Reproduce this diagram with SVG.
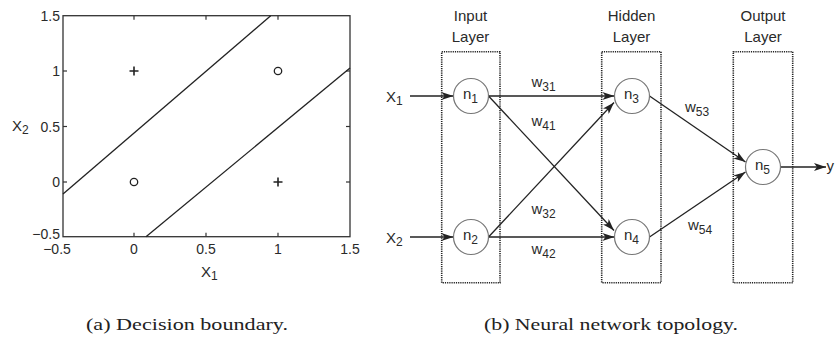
<svg xmlns="http://www.w3.org/2000/svg" width="836" height="342" viewBox="0 0 836 342">
<style>
  text { font-family: "Liberation Sans", Arial, sans-serif; fill: #2a2a2a; }
  .tick { font-size: 14px; }
  .lbl { font-size: 15px; }
  .sub { font-size: 12px; }
  .cap { font-family: "Liberation Serif", "Times New Roman", serif; font-size: 17px; fill: #222; }
  .axis { fill: none; stroke: #333; stroke-width: 1.3; }
  .bound { fill: none; stroke: #222; stroke-width: 1.3; }
  .box { fill: none; stroke: #222; stroke-width: 1.6; stroke-dasharray: 1.2 1; }
  .node circle { fill: #fff; stroke: #777; stroke-width: 1.2; }
  .edge { fill: none; stroke: #222; stroke-width: 1.3; marker-end: url(#arr); }
</style>
<defs>
  <marker id="arr" viewBox="0 0 12 8" refX="12" refY="4" markerWidth="12" markerHeight="8" markerUnits="userSpaceOnUse" orient="auto">
    <path d="M0,0 L12,4 L0,8 L3,4 Z" fill="#222"/>
  </marker>
</defs>
<rect width="836" height="342" fill="#fff"/>

<!-- (a) Decision boundary plot -->
<g id="plot">
  <rect class="axis" x="63" y="15.7" width="287" height="221"/>
  <g stroke="#333" stroke-width="1.2">
    <line x1="134" y1="236.7" x2="134" y2="232.7"/>
    <line x1="206" y1="236.7" x2="206" y2="232.7"/>
    <line x1="278" y1="236.7" x2="278" y2="232.7"/>
    <line x1="134" y1="15.7" x2="134" y2="19.7"/>
    <line x1="206" y1="15.7" x2="206" y2="19.7"/>
    <line x1="278" y1="15.7" x2="278" y2="19.7"/>
    <line x1="63" y1="71" x2="67" y2="71"/>
    <line x1="63" y1="126.5" x2="67" y2="126.5"/>
    <line x1="63" y1="182" x2="67" y2="182"/>
    <line x1="350" y1="71" x2="346" y2="71"/>
    <line x1="350" y1="126.5" x2="346" y2="126.5"/>
    <line x1="350" y1="182" x2="346" y2="182"/>
  </g>
  <g class="tick" text-anchor="end">
    <text x="60" y="21">1.5</text>
    <text x="60" y="76">1</text>
    <text x="60" y="131.5">0.5</text>
    <text x="60" y="187">0</text>
    <text x="60" y="239">−0.5</text>
  </g>
  <g class="tick" text-anchor="middle">
    <text x="57" y="254">−0.5</text>
    <text x="134" y="254">0</text>
    <text x="206" y="254">0.5</text>
    <text x="278" y="254">1</text>
    <text x="350" y="254">1.5</text>
  </g>
  <text class="lbl" x="201" y="277">X<tspan class="sub" dy="3">1</tspan></text>
  <text class="lbl" x="12" y="131">X<tspan class="sub" dy="3">2</tspan></text>
  <line class="bound" x1="63" y1="194" x2="270.7" y2="15.7"/>
  <line class="bound" x1="146" y1="236.7" x2="350" y2="68"/>
  <g stroke="#222" stroke-width="1.6" fill="none">
    <path d="M129.5,71 H138.5 M134,66.5 V75.5"/>
    <path d="M273.5,182 H282.5 M278,177.5 V186.5"/>
    <circle cx="278" cy="71" r="3.7" stroke-width="1.3"/>
    <circle cx="134" cy="182" r="3.7" stroke-width="1.3"/>
  </g>
</g>

<!-- (b) Neural network -->
<g id="layers">
  <g id="input-layer">
    <rect class="box" x="441.7" y="51.7" width="58.3" height="231"/>
    <text class="lbl" x="470.5" y="21" text-anchor="middle">Input</text>
    <text class="lbl" x="470.5" y="42" text-anchor="middle">Layer</text>
  </g>
  <g id="hidden-layer">
    <rect class="box" x="601.7" y="51.7" width="59.3" height="231"/>
    <text class="lbl" x="631.5" y="21" text-anchor="middle">Hidden</text>
    <text class="lbl" x="631.5" y="42" text-anchor="middle">Layer</text>
  </g>
  <g id="output-layer">
    <rect class="box" x="733.3" y="51.7" width="59.4" height="231"/>
    <text class="lbl" x="763" y="21" text-anchor="middle">Output</text>
    <text class="lbl" x="763" y="42" text-anchor="middle">Layer</text>
  </g>
</g>

<g id="connectors">
  <line class="edge" x1="410" y1="96" x2="453.5" y2="96"/>
  <line class="edge" x1="410" y1="237" x2="453.5" y2="237"/>
  <line class="edge" x1="488.5" y1="96" x2="614.5" y2="96"/>
  <line class="edge" x1="488.5" y1="96" x2="614" y2="230.5"/>
  <line class="edge" x1="488.5" y1="237" x2="614" y2="102.5"/>
  <line class="edge" x1="488.5" y1="237" x2="614.5" y2="237"/>
  <line class="edge" x1="649.5" y1="96" x2="745.5" y2="162"/>
  <line class="edge" x1="649.5" y1="237" x2="745.5" y2="172"/>
  <line class="edge" x1="780.5" y1="167" x2="826" y2="167"/>
  <text class="lbl" x="386" y="102">X<tspan class="sub" dy="3">1</tspan></text>
  <text class="lbl" x="386" y="243">X<tspan class="sub" dy="3">2</tspan></text>
  <text class="lbl" x="826.5" y="171">y</text>
  <text class="lbl" x="531.5" y="86.5">w<tspan class="sub" dy="4">31</tspan></text>
  <text class="lbl" x="531.5" y="125.5">w<tspan class="sub" dy="4">41</tspan></text>
  <text class="lbl" x="531.5" y="213.5">w<tspan class="sub" dy="4">32</tspan></text>
  <text class="lbl" x="531.5" y="253.5">w<tspan class="sub" dy="4">42</tspan></text>
  <text class="lbl" x="685" y="111.5">w<tspan class="sub" dy="4">53</tspan></text>
  <text class="lbl" x="688" y="230">w<tspan class="sub" dy="4">54</tspan></text>
</g>

<g id="n1" class="node"><circle cx="471" cy="96" r="17.5"/><text class="lbl" x="463" y="99">n<tspan class="sub" dy="4">1</tspan></text></g>
<g id="n2" class="node"><circle cx="471" cy="237" r="17.5"/><text class="lbl" x="463" y="240">n<tspan class="sub" dy="4">2</tspan></text></g>
<g id="n3" class="node"><circle cx="632" cy="96" r="17.5"/><text class="lbl" x="624" y="99">n<tspan class="sub" dy="4">3</tspan></text></g>
<g id="n4" class="node"><circle cx="632" cy="237" r="17.5"/><text class="lbl" x="624" y="240">n<tspan class="sub" dy="4">4</tspan></text></g>
<g id="n5" class="node"><circle cx="763" cy="167" r="17.5"/><text class="lbl" x="755" y="170">n<tspan class="sub" dy="4">5</tspan></text></g>

<text class="cap" x="86" y="330" textLength="202" lengthAdjust="spacingAndGlyphs">(a) Decision boundary.</text>
<text class="cap" x="484" y="330" textLength="254" lengthAdjust="spacingAndGlyphs">(b) Neural network topology.</text>
</svg>
